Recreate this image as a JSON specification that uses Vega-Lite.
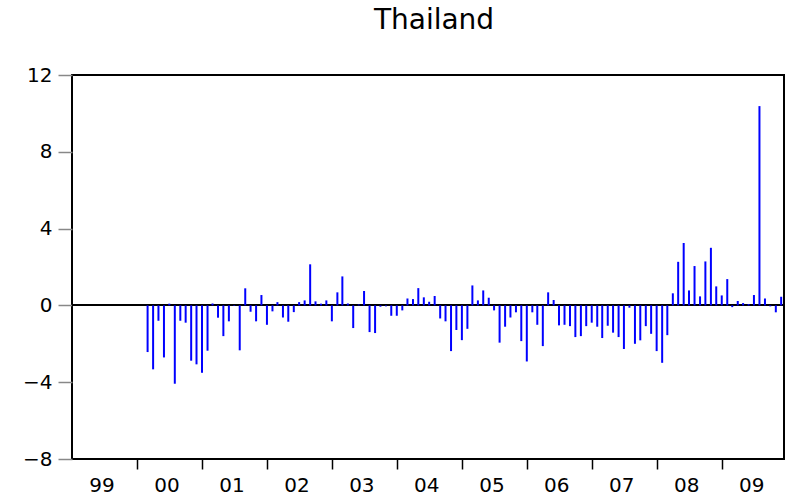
{
  "$schema": "https://vega.github.io/schema/vega-lite/v6.json",
  "autosize": {"type": "none"},
  "padding": {"left": 72, "top": 75, "right": 4, "bottom": 39},
  "width": 712,
  "height": 384,
  "background": "white",
  "config": {
    "view": {"stroke": "black", "strokeWidth": 2},
    "font": "DejaVu Sans"
  },
  "title": {
    "text": "Thailand",
    "font": "DejaVu Sans",
    "fontSize": 28,
    "fontWeight": "normal",
    "color": "black",
    "anchor": "middle",
    "frame": "group",
    "baseline": "alphabetic",
    "offset": 8,
    "dx": 6
  },
  "data": {
    "values": [
      {"d": "2000-03-01", "v": -2.43}, {"d": "2000-04-01", "v": -3.33}, {"d": "2000-05-01", "v": -0.80}, {"d": "2000-06-01", "v": -2.71}, {"d": "2000-07-01", "v": 0.09}, {"d": "2000-08-01", "v": -4.08}, {"d": "2000-09-01", "v": -0.80}, {"d": "2000-10-01", "v": -0.90}, {"d": "2000-11-01", "v": -2.88}, {"d": "2000-12-01", "v": -3.07},
      {"d": "2001-01-01", "v": -3.51}, {"d": "2001-02-01", "v": -2.36}, {"d": "2001-03-01", "v": 0.10}, {"d": "2001-04-01", "v": -0.64}, {"d": "2001-05-01", "v": -1.60}, {"d": "2001-06-01", "v": -0.83}, {"d": "2001-07-01", "v": -0.03}, {"d": "2001-08-01", "v": -2.34}, {"d": "2001-09-01", "v": 0.89}, {"d": "2001-10-01", "v": -0.33}, {"d": "2001-11-01", "v": -0.83}, {"d": "2001-12-01", "v": 0.54},
      {"d": "2002-01-01", "v": -1.01}, {"d": "2002-02-01", "v": -0.31}, {"d": "2002-03-01", "v": 0.17}, {"d": "2002-04-01", "v": -0.63}, {"d": "2002-05-01", "v": -0.85}, {"d": "2002-06-01", "v": -0.35}, {"d": "2002-07-01", "v": 0.17}, {"d": "2002-08-01", "v": 0.26}, {"d": "2002-09-01", "v": 2.14}, {"d": "2002-10-01", "v": 0.21}, {"d": "2002-11-01", "v": 0.09}, {"d": "2002-12-01", "v": 0.26},
      {"d": "2003-01-01", "v": -0.83}, {"d": "2003-02-01", "v": 0.68}, {"d": "2003-03-01", "v": 1.51}, {"d": "2003-04-01", "v": 0.10}, {"d": "2003-05-01", "v": -1.18}, {"d": "2003-06-01", "v": 0.05}, {"d": "2003-07-01", "v": 0.75}, {"d": "2003-08-01", "v": -1.39}, {"d": "2003-09-01", "v": -1.44}, {"d": "2003-10-01", "v": -0.07}, {"d": "2003-11-01", "v": -0.05}, {"d": "2003-12-01", "v": -0.54},
      {"d": "2004-01-01", "v": -0.54}, {"d": "2004-02-01", "v": -0.26}, {"d": "2004-03-01", "v": 0.36}, {"d": "2004-04-01", "v": 0.33}, {"d": "2004-05-01", "v": 0.90}, {"d": "2004-06-01", "v": 0.42}, {"d": "2004-07-01", "v": 0.19}, {"d": "2004-08-01", "v": 0.49}, {"d": "2004-09-01", "v": -0.68}, {"d": "2004-10-01", "v": -0.83}, {"d": "2004-11-01", "v": -2.38}, {"d": "2004-12-01", "v": -1.28},
      {"d": "2005-01-01", "v": -1.81}, {"d": "2005-02-01", "v": -1.22}, {"d": "2005-03-01", "v": 1.04}, {"d": "2005-04-01", "v": 0.26}, {"d": "2005-05-01", "v": 0.78}, {"d": "2005-06-01", "v": 0.40}, {"d": "2005-07-01", "v": -0.26}, {"d": "2005-08-01", "v": -1.94}, {"d": "2005-09-01", "v": -1.11}, {"d": "2005-10-01", "v": -0.63}, {"d": "2005-11-01", "v": -0.36}, {"d": "2005-12-01", "v": -1.86},
      {"d": "2006-01-01", "v": -2.92}, {"d": "2006-02-01", "v": -0.36}, {"d": "2006-03-01", "v": -1.01}, {"d": "2006-04-01", "v": -2.12}, {"d": "2006-05-01", "v": 0.68}, {"d": "2006-06-01", "v": 0.28}, {"d": "2006-07-01", "v": -1.04}, {"d": "2006-08-01", "v": -1.01}, {"d": "2006-09-01", "v": -1.08}, {"d": "2006-10-01", "v": -1.65}, {"d": "2006-11-01", "v": -1.60}, {"d": "2006-12-01", "v": -1.08},
      {"d": "2007-01-01", "v": -0.90}, {"d": "2007-02-01", "v": -1.11}, {"d": "2007-03-01", "v": -1.70}, {"d": "2007-04-01", "v": -1.06}, {"d": "2007-05-01", "v": -1.42}, {"d": "2007-06-01", "v": -1.65}, {"d": "2007-07-01", "v": -2.27}, {"d": "2007-08-01", "v": -0.12}, {"d": "2007-09-01", "v": -2.00}, {"d": "2007-10-01", "v": -1.82}, {"d": "2007-11-01", "v": -1.08}, {"d": "2007-12-01", "v": -1.48},
      {"d": "2008-01-01", "v": -2.38}, {"d": "2008-02-01", "v": -2.99}, {"d": "2008-03-01", "v": -1.55}, {"d": "2008-04-01", "v": 0.63}, {"d": "2008-05-01", "v": 2.27}, {"d": "2008-06-01", "v": 3.25}, {"d": "2008-07-01", "v": 0.78}, {"d": "2008-08-01", "v": 2.05}, {"d": "2008-09-01", "v": 0.47}, {"d": "2008-10-01", "v": 2.29}, {"d": "2008-11-01", "v": 3.00}, {"d": "2008-12-01", "v": 0.99},
      {"d": "2009-01-01", "v": 0.52}, {"d": "2009-02-01", "v": 1.37}, {"d": "2009-03-01", "v": -0.09}, {"d": "2009-04-01", "v": 0.23}, {"d": "2009-05-01", "v": 0.12}, {"d": "2009-06-01", "v": 0.07}, {"d": "2009-07-01", "v": 0.54}, {"d": "2009-08-01", "v": 10.38}, {"d": "2009-09-01", "v": 0.36}, {"d": "2009-10-01", "v": -0.05}, {"d": "2009-11-01", "v": -0.36}, {"d": "2009-12-01", "v": 0.45}
    ]
  },
  "layer": [
    {
      "mark": {"type": "rule", "color": "black", "strokeWidth": 1},
      "encoding": {"y": {"datum": 0, "type": "quantitative", "scale": {"domain": [-8, 12]}}}
    },
    {
      "mark": {"type": "rule", "color": "#0000FF", "strokeWidth": 2},
      "encoding": {
        "x": {
          "field": "d",
          "type": "temporal",
          "scale": {
            "type": "utc",
            "domain": [
              {"year": 1999, "month": 1, "date": 1, "utc": true},
              {"year": 2009, "month": 12, "date": 17, "utc": true}
            ],
            "nice": false
          },
          "axis": {
            "title": null,
            "domain": false,
            "grid": false,
            "values": [
              {"year": 1999, "month": 1, "date": 1, "utc": true},
              {"year": 2000, "month": 1, "date": 1, "utc": true},
              {"year": 2001, "month": 1, "date": 1, "utc": true},
              {"year": 2002, "month": 1, "date": 1, "utc": true},
              {"year": 2003, "month": 1, "date": 1, "utc": true},
              {"year": 2004, "month": 1, "date": 1, "utc": true},
              {"year": 2005, "month": 1, "date": 1, "utc": true},
              {"year": 2006, "month": 1, "date": 1, "utc": true},
              {"year": 2007, "month": 1, "date": 1, "utc": true},
              {"year": 2008, "month": 1, "date": 1, "utc": true},
              {"year": 2009, "month": 1, "date": 1, "utc": true}
            ],
            "labelExpr": "utcFormat(datum.value, '%y')",
            "labelOffset": 29.5,
            "labelAlign": "center",
            "labelBaseline": "alphabetic",
            "labelPadding": 22,
            "labelFont": "DejaVu Sans",
            "labelFontSize": 20,
            "labelColor": "black",
            "labelFlush": false,
            "labelOverlap": false,
            "tickSize": 10,
            "tickWidth": 1.5,
            "tickColor": "black",
            "tickOpacity": {"condition": {"test": "utcyear(datum.value) == 1999", "value": 0}, "value": 1}
          }
        },
        "y": {
          "field": "v",
          "type": "quantitative",
          "scale": {"domain": [-8, 12], "nice": false, "zero": false},
          "axis": {
            "title": null,
            "domain": false,
            "grid": false,
            "values": [-8, -4, 0, 4, 8, 12],
            "labelFont": "DejaVu Sans",
            "labelFontSize": 20,
            "labelColor": "black",
            "labelPadding": 6,
            "labelFlush": false,
            "labelOverlap": false,
            "tickSize": 14,
            "tickWidth": 1.5,
            "tickColor": "#888888"
          }
        },
        "y2": {"datum": 0}
      }
    }
  ]
}
